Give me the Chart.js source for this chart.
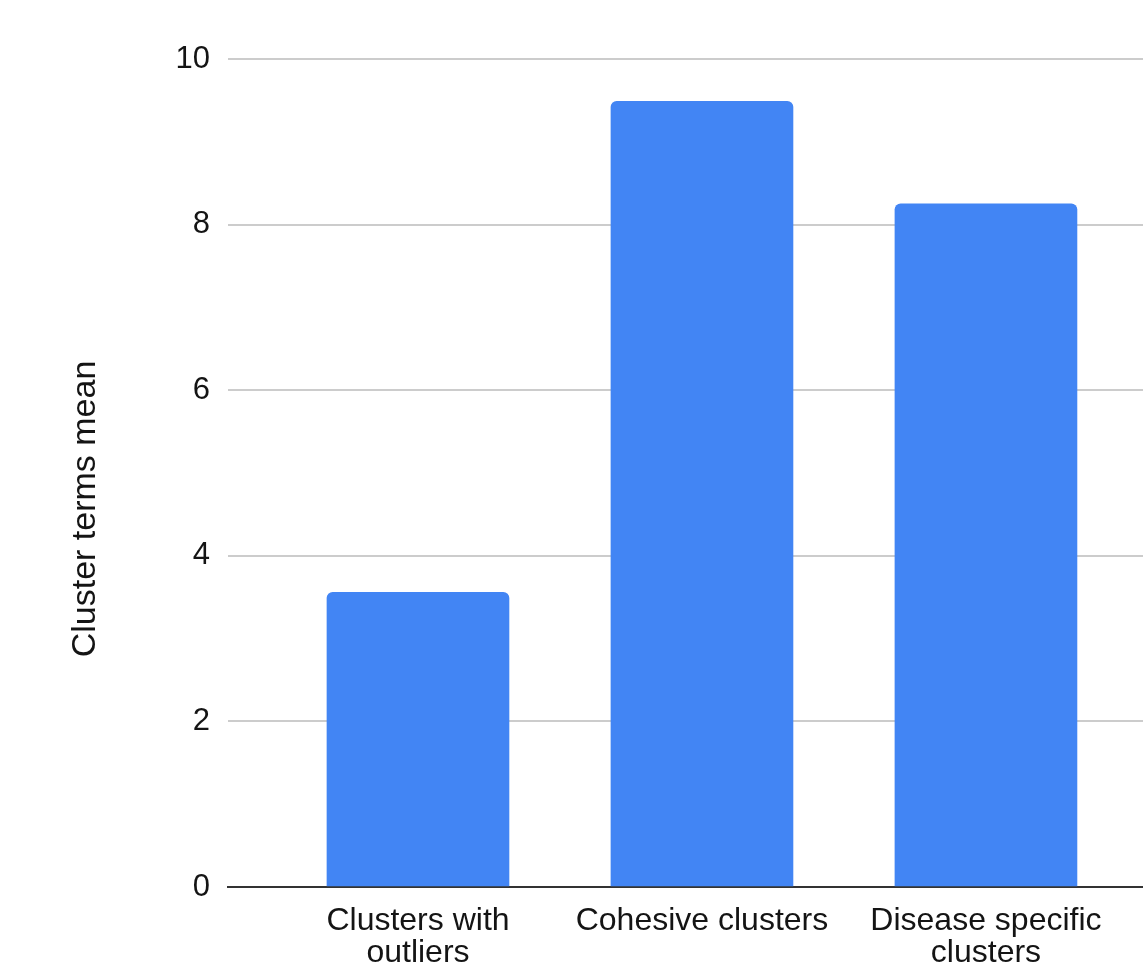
<!DOCTYPE html>
<html>
<head>
<meta charset="utf-8">
<script src="https://cdn.jsdelivr.net/npm/chart.js@4/dist/chart.umd.min.js"></script>
<style>
  html, body { margin: 0; padding: 0; background: #ffffff; overflow: hidden; }
  #wrap { width: 1143px; height: 967px; }
</style>
</head>
<body>
<div id="wrap"><canvas id="c" width="1143" height="967"></canvas></div>
<script>
const categories = [["Clusters with", "outliers"], ["Cohesive clusters"], ["Disease specific", "clusters"]];
const values = [3.56, 9.49, 8.25];
const yTicks = [0, 2, 4, 6, 8, 10];
const yTitle = "Cluster terms mean";

const FONT = "'Liberation Sans', Arial, Helvetica, sans-serif";
const TEXT = '#141414';

// y-axis title, drawn as text beside the axis (slightly below the plot centre, as in the reference)
const yTitlePlugin = {
  id: 'yTitle',
  afterDraw(chart) {
    const ctx = chart.ctx;
    const area = chart.chartArea;
    ctx.save();
    ctx.translate(86, (area.top + area.bottom) / 2 + 36);
    ctx.rotate(-Math.PI / 2);
    ctx.font = "34px " + FONT;
    ctx.fillStyle = TEXT;
    ctx.textAlign = 'center';
    ctx.textBaseline = 'middle';
    ctx.fillText(yTitle, 0, 0);
    ctx.restore();
  }
};

new Chart(document.getElementById('c'), {
  type: 'bar',
  data: {
    datasets: [{
      data: categories.map((c, i) => ({ x: i, y: values[i] })),
      backgroundColor: '#4285F4',
      borderWidth: 0,
      borderRadius: { topLeft: 6, topRight: 6, bottomLeft: 0, bottomRight: 0 },
      borderSkipped: 'start',
      barThickness: 182
    }]
  },
  plugins: [yTitlePlugin],
  options: {
    responsive: false,
    animation: false,
    layout: { padding: { top: 59, right: 0, bottom: 0, left: 0 } },
    plugins: { legend: { display: false }, tooltip: { enabled: false } },
    scales: {
      x: {
        type: 'linear',
        offset: false,
        min: -0.669,
        max: 2.553,
        afterBuildTicks: (scale) => { scale.ticks = categories.map((c, i) => ({ value: i })); },
        afterFit: (scale) => { scale.height = 80; },
        grid: { display: false, drawTicks: false, offset: false },
        border: { display: true, color: '#333333', width: 2 },
        ticks: {
          autoSkip: false,
          maxRotation: 0,
          padding: 18,
          color: TEXT,
          font: { family: FONT, size: 32, lineHeight: 1.0 },
          callback: (v) => categories[v]
        }
      },
      y: {
        min: 0,
        max: 10,
        afterBuildTicks: (scale) => { scale.ticks = yTicks.map(v => ({ value: v })); },
        afterFit: (scale) => { scale.width = 228; },
        grid: {
          color: (ctx) => ctx.tick && ctx.tick.value === 0 ? 'rgba(0,0,0,0)' : '#cccccc',
          lineWidth: 2,
          drawTicks: false
        },
        border: { display: false },
        ticks: {
          padding: 18,
          color: TEXT,
          font: { family: FONT, size: 31 }
        },
        title: { display: false }
      }
    }
  }
});
</script>
</body>
</html>
